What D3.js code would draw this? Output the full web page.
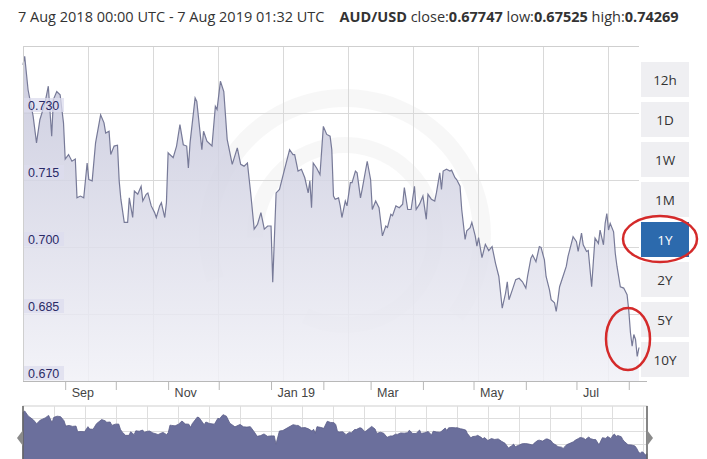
<!DOCTYPE html>
<html>
<head>
<meta charset="utf-8">
<script src="https://cdn.jsdelivr.net/npm/d3@7"></script>
<style>
  body { margin: 0; background: #fff; }
  svg { display: block; }
</style>
</head>
<body>
<div id="main"></div>
<script>
// AUD/USD one year
var dates = [
  "2018-08-07","2018-08-08","2018-08-10","2018-08-13","2018-08-15","2018-08-17","2018-08-20","2018-08-22","2018-08-24","2018-08-25",
  "2018-08-27","2018-08-29","2018-08-31","2018-09-01","2018-09-03","2018-09-05","2018-09-07","2018-09-08","2018-09-10","2018-09-12",
  "2018-09-14","2018-09-15","2018-09-17","2018-09-19","2018-09-22","2018-09-24","2018-09-25","2018-09-27","2018-09-28","2018-09-30",
  "2018-10-02","2018-10-03","2018-10-04","2018-10-06","2018-10-08","2018-10-09","2018-10-11","2018-10-12","2018-10-14","2018-10-16",
  "2018-10-17","2018-10-19","2018-10-20","2018-10-22","2018-10-24","2018-10-25","2018-10-27","2018-10-28","2018-10-30","2018-10-31",
  "2018-11-01","2018-11-02","2018-11-04","2018-11-06","2018-11-08","2018-11-10","2018-11-12","2018-11-13","2018-11-14","2018-11-17",
  "2018-11-18","2018-11-21","2018-11-22","2018-11-24","2018-11-27","2018-11-29","2018-11-30","2018-12-02","2018-12-04","2018-12-06",
  "2018-12-09","2018-12-12","2018-12-14","2018-12-16","2018-12-18","2018-12-20","2018-12-22","2018-12-24","2018-12-26","2018-12-28",
  "2018-12-30","2019-01-01","2019-01-02","2019-01-04","2019-01-06","2019-01-09","2019-01-12","2019-01-14","2019-01-15","2019-01-17",
  "2019-01-19","2019-01-21","2019-01-23","2019-01-24","2019-01-25","2019-01-26","2019-01-28","2019-01-30","2019-02-01","2019-02-03",
  "2019-02-05","2019-02-06","2019-02-07","2019-02-08","2019-02-10","2019-02-11","2019-02-12","2019-02-14","2019-02-15","2019-02-17",
  "2019-02-18","2019-02-20","2019-02-21","2019-02-23","2019-02-24","2019-02-27","2019-03-01","2019-03-02","2019-03-04","2019-03-06",
  "2019-03-08","2019-03-10","2019-03-11","2019-03-13","2019-03-14","2019-03-16","2019-03-18","2019-03-20","2019-03-21","2019-03-23",
  "2019-03-25","2019-03-27","2019-03-28","2019-03-30","2019-04-01","2019-04-03","2019-04-04","2019-04-06","2019-04-08","2019-04-09",
  "2019-04-11","2019-04-12","2019-04-13","2019-04-15","2019-04-17","2019-04-18","2019-04-20","2019-04-21","2019-04-23","2019-04-24",
  "2019-04-26","2019-04-27","2019-04-29","2019-04-30","2019-05-02","2019-05-03","2019-05-04","2019-05-06","2019-05-08","2019-05-10",
  "2019-05-12","2019-05-14","2019-05-16","2019-05-18","2019-05-20","2019-05-21","2019-05-22","2019-05-24","2019-05-26","2019-05-28",
  "2019-05-30","2019-06-01","2019-06-02","2019-06-04","2019-06-05","2019-06-07","2019-06-09","2019-06-10","2019-06-12","2019-06-13",
  "2019-06-15","2019-06-16","2019-06-18","2019-06-19","2019-06-20","2019-06-21","2019-06-23","2019-06-25","2019-06-26","2019-06-28",
  "2019-06-29","2019-07-01","2019-07-02","2019-07-04","2019-07-05","2019-07-07","2019-07-08","2019-07-10","2019-07-11","2019-07-12",
  "2019-07-14","2019-07-15","2019-07-17","2019-07-18","2019-07-19","2019-07-20","2019-07-21","2019-07-23","2019-07-24","2019-07-25",
  "2019-07-27","2019-07-29","2019-07-31","2019-08-01","2019-08-02","2019-08-03","2019-08-04","2019-08-05","2019-08-06","2019-08-07T01:32Z"
];
var closes = [
  0.7408,0.7427,0.7352,0.7293,0.7233,0.7285,0.7322,0.7360,0.7248,0.7330,
  0.7348,0.7341,0.7278,0.7197,0.7207,0.7192,0.7197,0.7110,0.7114,0.7110,
  0.7188,0.7151,0.7148,0.7233,0.7296,0.7278,0.7255,0.7259,0.7207,0.7226,
  0.7228,0.7148,0.7107,0.7055,0.7055,0.7110,0.7066,0.7125,0.7118,0.7136,
  0.7103,0.7118,0.7121,0.7092,0.7077,0.7066,0.7092,0.7099,0.7066,0.7099,
  0.7211,0.7207,0.7200,0.7226,0.7274,0.7229,0.7226,0.7177,0.7233,0.7334,
  0.7326,0.7218,0.7259,0.7237,0.7226,0.7315,0.7308,0.7371,0.7348,0.7241,
  0.7185,0.7222,0.7185,0.7181,0.7188,0.7118,0.7040,0.7051,0.7077,0.7040,
  0.7047,0.7047,0.6921,0.7121,0.7129,0.7174,0.7218,0.7207,0.7207,0.7170,
  0.7174,0.7155,0.7121,0.7148,0.7088,0.7188,0.7177,0.7162,0.7270,0.7252,
  0.7248,0.7218,0.7114,0.7107,0.7110,0.7092,0.7066,0.7103,0.7092,0.7144,
  0.7144,0.7170,0.7166,0.7110,0.7129,0.7192,0.7151,0.7084,0.7103,0.7088,
  0.7025,0.7047,0.7044,0.7073,0.7070,0.7092,0.7088,0.7096,0.7133,0.7084,
  0.7084,0.7136,0.7084,0.7096,0.7114,0.7062,0.7118,0.7107,0.7103,0.7121,
  0.7166,0.7129,0.7170,0.7174,0.7170,0.7172,0.7155,0.7151,0.7136,0.7084,
  0.7017,0.7036,0.7043,0.7055,0.7025,0.7002,0.7021,0.6976,0.7006,0.6992,
  0.7001,0.6964,0.6934,0.6863,0.6897,0.6922,0.6882,0.6904,0.6927,0.6930,
  0.6922,0.6908,0.6934,0.6975,0.6982,0.6967,0.7001,0.6999,0.6971,0.6934,
  0.6904,0.6882,0.6875,0.6856,0.6882,0.6911,0.6934,0.6957,0.6979,0.7008,
  0.7023,0.7012,0.6990,0.7031,0.7005,0.6990,0.6992,0.6911,0.6967,0.7020,
  0.7008,0.7038,0.7005,0.7053,0.7075,0.7038,0.7053,0.7034,0.6986,0.6957,
  0.6911,0.6908,0.6893,0.6858,0.6808,0.6778,0.6804,0.6793,0.6755,0.6775
];
var yTicks = [0.670, 0.685, 0.700, 0.715, 0.730];
var ranges = ["12h", "1D", "1W", "1M", "1Y", "2Y", "5Y", "10Y"];
var activeRange = "1Y";
var headerParts = [
  ["7 Aug 2018 00:00 UTC - 7 Aug 2019 01:32 UTC    ", false],
  ["AUD/USD", true], [" close:", false], ["0.67747", true],
  [" low:", false], ["0.67525", true], [" high:", false], ["0.74269", true]
];

var W = 707, H = 459;
var margin = { top: 46, left: 23, right: 68, bottom: 78 };
var plotR = W - margin.right, plotB = H - margin.bottom;

var data = dates.map(function(d, i) { return { date: d3.isoParse(d.length > 10 ? d : d + "T00:00Z"), close: closes[i] }; });

var svg = d3.select("#main").append("svg")
  .attr("width", W).attr("height", H)
  .style("font-family", "'Open Sans', sans-serif");

var x = d3.scaleUtc()
  .domain([d3.isoParse("2018-08-07T00:00Z"), d3.isoParse("2019-08-07T01:32Z")])
  .range([margin.left, plotR]);
var y = d3.scaleLinear().domain([0.670, 0.745]).range([plotB, margin.top]);

// header
var head = svg.append("text").attr("x", 18).attr("y", 22)
  .attr("font-size", 14.5).attr("fill", "#333").attr("xml:space", "preserve");
headerParts.forEach(function(p) {
  head.append("tspan").text(p[0]).attr("font-weight", p[1] ? "bold" : "normal");
});

var defs = svg.append("defs");
var grad = defs.append("linearGradient").attr("id", "areaGrad")
  .attr("x1", 0).attr("y1", 0).attr("x2", 0).attr("y2", 1);
grad.append("stop").attr("offset", "0%").attr("stop-color", "#c4c5da");
grad.append("stop").attr("offset", "100%").attr("stop-color", "#f1f1f7");

// watermark rings
var wm = svg.append("g");
wm.append("path").attr("d", d3.arc().innerRadius(128).outerRadius(146).startAngle(-1.9).endAngle(2.2)())
  .attr("transform", "translate(345,235)").attr("fill", "#000").attr("fill-opacity", 0.03);
wm.append("path").attr("d", d3.arc().innerRadius(82).outerRadius(98).startAngle(-1.6).endAngle(3.6)())
  .attr("transform", "translate(345,235)").attr("fill", "#000").attr("fill-opacity", 0.03);

// grid
var grid = svg.append("g").attr("stroke", "#d9d9d9").attr("stroke-width", 1);
grid.selectAll(".h").data(yTicks.concat([0.745])).enter().append("line")
  .attr("x1", margin.left).attr("x2", plotR)
  .attr("y1", function(d) { return Math.round(y(d)) + 0.5; })
  .attr("y2", function(d) { return Math.round(y(d)) + 0.5; });
grid.selectAll(".v").data(d3.range(margin.left, plotR, 65)).enter().append("line")
  .attr("y1", margin.top).attr("y2", plotB)
  .attr("x1", function(d) { return d + 0.5; }).attr("x2", function(d) { return d + 0.5; });

// area + line
var area = d3.area().x(function(d) { return x(d.date); })
  .y0(plotB).y1(function(d) { return y(d.close); });
var line = d3.line().x(function(d) { return x(d.date); }).y(function(d) { return y(d.close); });

svg.append("path").datum(data).attr("d", area)
  .attr("fill", "url(#areaGrad)").attr("fill-opacity", 0.85);
svg.append("path").datum(data).attr("d", line)
  .attr("fill", "none").attr("stroke", "#777a98").attr("stroke-width", 1.2);

// y labels inside plot
var yl = svg.append("g").selectAll("g").data(yTicks).enter().append("g");
yl.append("rect").attr("x", margin.left + 1).attr("width", 40)
  .attr("y", function(d) { return y(d) - 15; }).attr("height", 14)
  .attr("fill", "#dcdcee").attr("fill-opacity", 0.75);
yl.append("text").attr("x", margin.left + 5)
  .attr("y", function(d) { return y(d) - 3; })
  .attr("font-family", "'Liberation Sans', Arial, sans-serif").attr("font-size", 12.5)
  .attr("fill", "#2a2a66").text(function(d) { return d3.format(".3f")(d); });

// x axis
var xAxis = d3.axisBottom(x).ticks(d3.utcMonth.every(1)).tickSize(9)
  .tickFormat(function(d) {
    var m = d.getUTCMonth();
    if (m % 2) return "";
    return m === 0 ? d3.utcFormat("%b %y")(d) : d3.utcFormat("%b")(d);
  });
var gx = svg.append("g").attr("transform", "translate(0," + plotB + ")").call(xAxis);
gx.select(".domain").attr("stroke", "#b8b8b8").attr("d", "M" + margin.left + ",0.5H" + (plotR + 8));
gx.selectAll(".tick line").attr("stroke", "#b8b8b8");
gx.selectAll(".tick text").attr("text-anchor", "start").attr("x", 6).attr("dy", "0.75em").attr("y", 7)
  .attr("font-family", "'Liberation Sans', Arial, sans-serif").attr("font-size", 12.5).attr("fill", "#444");

// frame
svg.append("path").attr("d", "M" + (margin.left + 0.5) + "," + plotB + "V" + (margin.top + 0.5) + "H" + plotR)
  .attr("fill", "none").attr("stroke", "#cfcfcf");

// navigator
var navTop = 406, navL = 23, navR = 647;
var xn = d3.scaleUtc().domain(x.domain()).range([navL, navR]);
var yn = d3.scaleLinear().domain(d3.extent(closes)).range([455, 411]);
var nav = svg.append("g");
nav.append("rect").attr("x", navL).attr("y", navTop).attr("width", navR - navL).attr("height", H - navTop)
  .attr("fill", "#fff").attr("stroke", "#cfcfcf");
nav.selectAll(".nv").data(d3.range(navL, navR, 31)).enter().append("line")
  .attr("x1", function(d) { return d + 0.5; }).attr("x2", function(d) { return d + 0.5; })
  .attr("y1", navTop).attr("y2", H).attr("stroke", "#dedede");
nav.selectAll(".nh").data([418, 431, 444]).enter().append("line")
  .attr("x1", navL).attr("x2", navR).attr("y1", function(d) { return d + 0.5; }).attr("y2", function(d) { return d + 0.5; })
  .attr("stroke", "#dedede");
nav.append("path").datum(data)
  .attr("d", d3.area().x(function(d) { return xn(d.date); }).y0(H + 5).y1(function(d) { return yn(d.close); }))
  .attr("fill", "#6b6f9c").attr("stroke", "#5a5d88").attr("stroke-width", 0.8);
[navL, navR].forEach(function(hx, i) {
  nav.append("line").attr("x1", hx).attr("x2", hx).attr("y1", navTop).attr("y2", H)
    .attr("stroke", "#666").attr("stroke-width", 1.5);
  var s = i ? 1 : -1;
  nav.append("path").attr("d", "M" + hx + "," + 430 + "L" + (hx + s * 6) + "," + 438 + "L" + hx + "," + 446 + "Z")
    .attr("fill", "#8a8a8a");
});

// range buttons
var btn = svg.append("g").selectAll("g").data(ranges).enter().append("g")
  .attr("transform", function(d, i) { return "translate(641," + (62 + i * 40) + ")"; });
btn.append("rect").attr("width", 48).attr("height", 35)
  .attr("fill", function(d) { return d === activeRange ? "#2c6aad" : "#efeff2"; });
btn.append("text").attr("x", 24).attr("y", 22.5).attr("text-anchor", "middle")
  .attr("font-size", 13.5).attr("fill", function(d) { return d === activeRange ? "#fff" : "#333"; })
  .text(function(d) { return d; });

// red annotation rings
svg.append("ellipse").attr("cx", 660).attr("cy", 239).attr("rx", 37).attr("ry", 23)
  .attr("fill", "none").attr("stroke", "#d42a2a").attr("stroke-width", 2.5);
svg.append("ellipse").attr("cx", 628).attr("cy", 339).attr("rx", 22).attr("ry", 31)
  .attr("fill", "none").attr("stroke", "#d42a2a").attr("stroke-width", 2.5);
</script>
</body>
</html>
